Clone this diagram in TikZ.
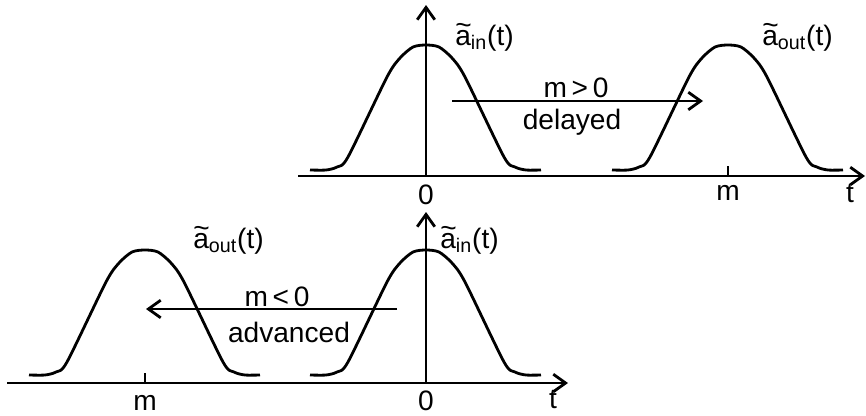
\documentclass[tikz,border=0pt]{standalone}
\usepackage{fontspec}
\setmainfont{Liberation Sans}
\usetikzlibrary{arrows.meta}
\tikzset{
  ln/.style={line width=1.6pt, line join=round},
  axisarrow/.style={ln, -{Straight Barb[length=7pt,width=10pt,line width=1.6pt]}},
  lbl/.style={inner sep=0pt, font=\fontsize{16}{19}\selectfont},
}
\newcommand{\tila}{\makebox[0pt][l]{\raisebox{0.36em}{\textasciitilde}}a}
\newcommand{\mypulse}[2]{%
  \draw[ln, shift={(#1,#2)}] plot[smooth, tension=0.45] coordinates {
    (-116,0) (-100,0) (-89,-3) (-78,-13) (-39,-93) (-26,-112) (-13,-123) (0,-125)
    (13,-123) (26,-112) (39,-93) (78,-13) (89,-3) (100,0) (115,0)};}
\begin{document}
\begin{tikzpicture}[x=0.02cm, y=-0.02cm]
\useasboundingbox (0,0) rectangle (866,416);
% ---------- top diagram ----------
\coordinate (tl) at (298,176);
\coordinate (tr) at (865,176);
\coordinate (to) at (426,176);
\coordinate (tt) at (426,5);
\draw[axisarrow] (tl) -- (tr);
\draw[axisarrow] (to) -- (tt);
\mypulse{426}{170}
\mypulse{728}{170}
\coordinate (tm1) at (728,166);
\coordinate (tm2) at (728,176);
\draw[ln] (tm1) -- (tm2);
\coordinate (ta1) at (452,101);
\coordinate (ta2) at (703,101);
\draw[axisarrow] (ta1) -- (ta2);
\node[lbl, anchor=base] (mgt) at (576,97) {m\,>\,0};
\node[lbl, anchor=base] (del) at (572,129) {delayed};
\node[lbl, anchor=base west] (tain) at (455,45) {\tila\textsubscript{in}(t)};
\node[lbl, anchor=base west] (taout) at (762,45) {\tila\textsubscript{out}(t)};
\node[lbl, anchor=base] (t0) at (426,204) {0};
\node[lbl, anchor=base] (tmm) at (728,200) {m};
\node[lbl, anchor=base] (ttt) at (850,202) {t};
% ---------- bottom diagram ----------
\coordinate (bl) at (7,383);
\coordinate (br) at (568,383);
\coordinate (bo) at (426,383);
\coordinate (bt) at (426,212);
\draw[axisarrow] (bl) -- (br);
\draw[axisarrow] (bo) -- (bt);
\mypulse{426}{375}
\mypulse{145}{375}
\coordinate (bm1) at (145,373);
\coordinate (bm2) at (145,383);
\draw[ln] (bm1) -- (bm2);
\coordinate (ba1) at (397,309);
\coordinate (ba2) at (146,309);
\draw[axisarrow] (ba1) -- (ba2);
\node[lbl, anchor=base] (mlt) at (277,306) {m\,<\,0};
\node[lbl, anchor=base] (adv) at (289,342) {advanced};
\node[lbl, anchor=base west] (bain) at (440,248) {\tila\textsubscript{in}(t)};
\node[lbl, anchor=base west] (baout) at (193,248) {\tila\textsubscript{out}(t)};
\node[lbl, anchor=base] (b0) at (426,410) {0};
\node[lbl, anchor=base] (bmm) at (145,410) {m};
\node[lbl, anchor=base] (btt) at (553,408) {t};
\end{tikzpicture}
\end{document}
